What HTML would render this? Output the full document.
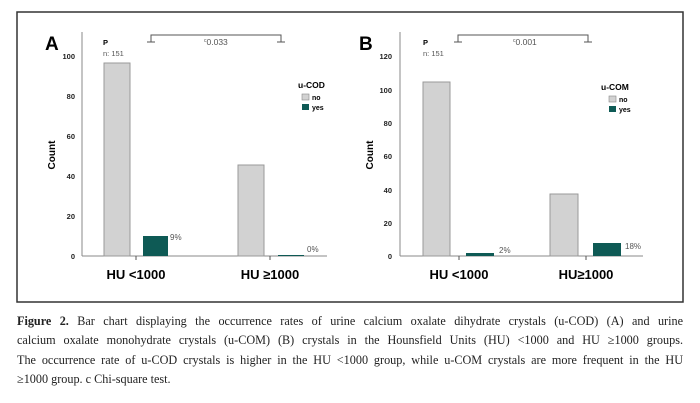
<!DOCTYPE html>
<html><head><meta charset="utf-8"><style>
body{margin:0;background:#fff;width:700px;height:403px;overflow:hidden}
.cap{position:absolute;left:17px;top:312px;width:666px;font-family:"Liberation Serif",serif;font-size:12.2px;line-height:19.3px;color:#222}
.cap div{text-align:justify;text-align-last:justify;white-space:nowrap}
.cap div.l{text-align-last:left}
</style></head><body>
<svg width="700" height="403" style="position:absolute;left:0;top:0" font-family="Liberation Sans, DejaVu Sans, sans-serif">
<rect x="17" y="12" width="666" height="290" fill="none" stroke="#333" stroke-width="1.5"/>
<g>
<text x="45" y="50" font-size="19" font-weight="bold">A</text>
<line x1="82" y1="32" x2="82" y2="256" stroke="#888"/>
<line x1="82" y1="256" x2="327" y2="256" stroke="#888"/>
<g font-size="7.5" font-weight="bold" text-anchor="end" fill="#222">
<text x="75" y="259">0</text><text x="75" y="219">20</text><text x="75" y="179">40</text><text x="75" y="139">60</text><text x="75" y="99">80</text><text x="75" y="59">100</text></g>
<text transform="translate(55,155) rotate(-90)" font-size="10" font-weight="bold" text-anchor="middle">Count</text>
<rect x="104" y="63" width="26" height="193" fill="#d2d2d2" stroke="#999"/>
<rect x="143" y="236" width="25" height="20" fill="#0e5a55"/>
<rect x="238" y="165" width="26" height="91" fill="#d2d2d2" stroke="#999"/>
<rect x="278" y="255" width="26" height="1" fill="#0e5a55"/>
<line x1="136" y1="256" x2="136" y2="260" stroke="#555"/><line x1="270" y1="256" x2="270" y2="260" stroke="#555"/>
<text x="170" y="240" font-size="8" fill="#555">9%</text>
<text x="307" y="252" font-size="8" fill="#555">0%</text>
<text x="136" y="279" font-size="13" font-weight="bold" text-anchor="middle">HU &lt;1000</text>
<text x="270" y="279" font-size="13" font-weight="bold" text-anchor="middle">HU ≥1000</text>
<text x="103" y="45" font-size="7.5" font-weight="bold">P</text>
<text x="103" y="56" font-size="7.5" fill="#555">n: 151</text>
<path d="M151 42 V35 H281 V42 M147 42 H155 M277 42 H285" fill="none" stroke="#555"/>
<text x="204" y="45" font-size="8.5" fill="#555"><tspan font-size="5" dy="-3">c</tspan><tspan dy="3">0.033</tspan></text>
<text x="298" y="88" font-size="8.5" font-weight="bold">u-COD</text>
<rect x="302" y="94" width="7" height="6" fill="#d2d2d2" stroke="#888" stroke-width="0.6"/>
<rect x="302" y="104" width="7" height="6" fill="#0e5a55"/>
<text x="312" y="100" font-size="7" font-weight="bold">no</text>
<text x="312" y="110" font-size="7" font-weight="bold">yes</text>
</g>
<g>
<text x="359" y="50" font-size="19" font-weight="bold">B</text>
<line x1="400" y1="32" x2="400" y2="256" stroke="#888"/>
<line x1="400" y1="256" x2="643" y2="256" stroke="#888"/>
<g font-size="7.5" font-weight="bold" text-anchor="end" fill="#222">
<text x="392" y="259">0</text><text x="392" y="226">20</text><text x="392" y="193">40</text><text x="392" y="159">60</text><text x="392" y="126">80</text><text x="392" y="93">100</text><text x="392" y="59">120</text></g>
<text transform="translate(373,155) rotate(-90)" font-size="10" font-weight="bold" text-anchor="middle">Count</text>
<rect x="423" y="82" width="27" height="174" fill="#d2d2d2" stroke="#999"/>
<rect x="466" y="253" width="28" height="3" fill="#0e5a55"/>
<rect x="550" y="194" width="28" height="62" fill="#d2d2d2" stroke="#999"/>
<rect x="593" y="243" width="28" height="13" fill="#0e5a55"/>
<line x1="459" y1="256" x2="459" y2="260" stroke="#555"/><line x1="586" y1="256" x2="586" y2="260" stroke="#555"/>
<text x="499" y="253" font-size="8" fill="#555">2%</text>
<text x="625" y="249" font-size="8" fill="#555">18%</text>
<text x="459" y="279" font-size="13" font-weight="bold" text-anchor="middle">HU &lt;1000</text>
<text x="586" y="279" font-size="13" font-weight="bold" text-anchor="middle">HU≥1000</text>
<text x="423" y="45" font-size="7.5" font-weight="bold">P</text>
<text x="423" y="56" font-size="7.5" fill="#555">n: 151</text>
<path d="M458 42 V35 H588 V42 M454 42 H462 M584 42 H592" fill="none" stroke="#555"/>
<text x="513" y="45" font-size="8.5" fill="#555"><tspan font-size="5" dy="-3">c</tspan><tspan dy="3">0.001</tspan></text>
<text x="601" y="90" font-size="8.5" font-weight="bold">u-COM</text>
<rect x="609" y="96" width="7" height="6" fill="#d2d2d2" stroke="#888" stroke-width="0.6"/>
<rect x="609" y="106" width="7" height="6" fill="#0e5a55"/>
<text x="619" y="102" font-size="7" font-weight="bold">no</text>
<text x="619" y="112" font-size="7" font-weight="bold">yes</text>
</g>
</svg>
<div class="cap">
<div><b>Figure 2.</b> Bar chart displaying the occurrence rates of urine calcium oxalate dihydrate crystals (u-COD) (A) and urine</div>
<div>calcium oxalate monohydrate crystals (u-COM) (B) crystals in the Hounsfield Units (HU) &lt;1000 and HU ≥1000 groups.</div>
<div>The occurrence rate of u-COD crystals is higher in the HU &lt;1000 group, while u-COM crystals are more frequent in the HU</div>
<div class="l">≥1000 group. c Chi-square test.</div>
</div>
</body></html>
